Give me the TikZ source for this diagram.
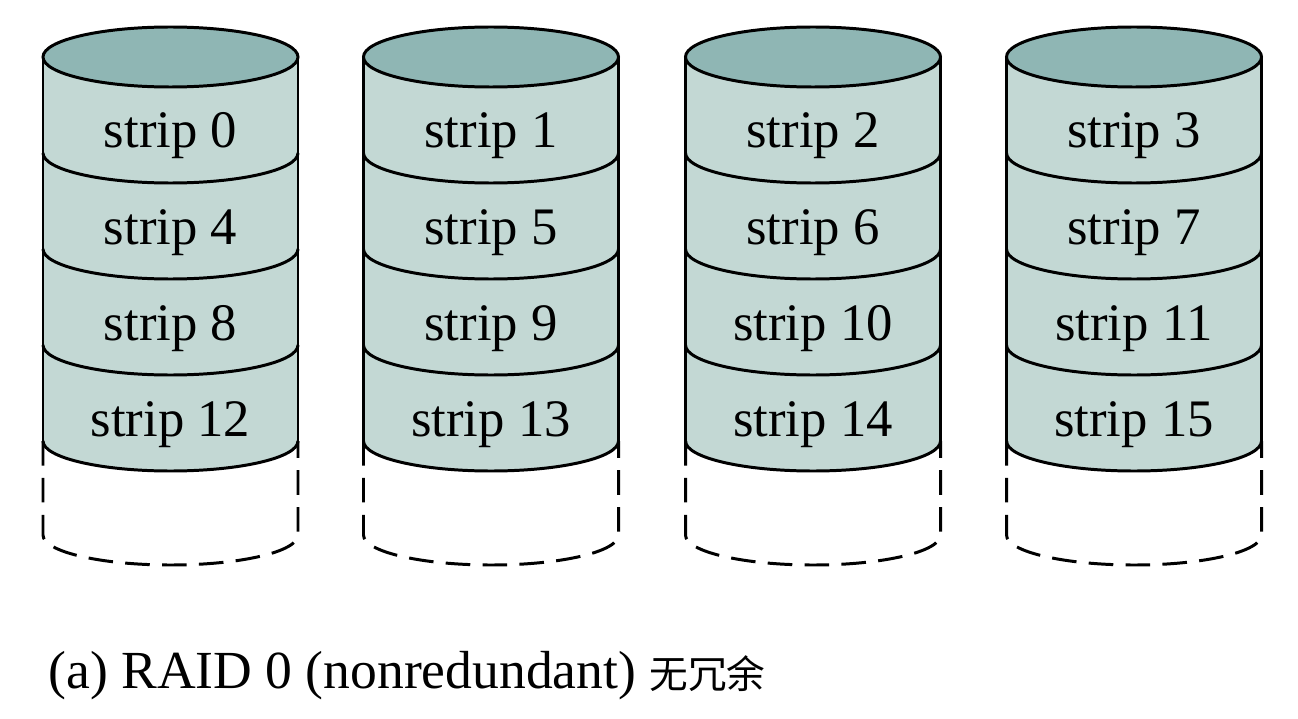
\documentclass[tikz,border=0pt]{standalone}
\usepackage{fontspec}
\setmainfont{Liberation Serif}
\newfontfamily\cjk{Noto Sans CJK SC}
\definecolor{disktop}{RGB}{143,182,180}
\definecolor{diskside}{RGB}{195,216,212}

\begin{document}
\begin{tikzpicture}[x=0.02cm,y=0.02cm,line width=1.7pt,
  striplabel/.style={anchor=base,font=\fontsize{30}{30}\selectfont},
  spare/.style={dash pattern=on 14pt off 7pt}]
\useasboundingbox (0,0) rectangle (1298,718);

\foreach \d/\cx in {0/170.5,1/491,2/813,3/1134}{
  % disk body
  \fill[diskside] (\cx-127.5,661) -- (\cx-127.5,277)
    arc[start angle=180,end angle=360,x radius=127.5,y radius=30] -- (\cx+127.5,661) -- cycle;
  \draw (\cx-127.5,661) -- (\cx-127.5,277) (\cx+127.5,661) -- (\cx+127.5,277);
  \draw[fill=disktop] (\cx,661) ellipse[x radius=127.5,y radius=30];
  \foreach \r/\cy in {0/565,1/469,2/373,3/277}{
    \draw (\cx-127.5,\cy) arc[start angle=180,end angle=360,x radius=127.5,y radius=30];
    \pgfmathtruncatemacro\s{\d+4*\r}
    \node[striplabel] (s\s) at (\cx,570-96*\r) {strip \s};
  }
  % empty space
  \draw[spare] (\cx-127.5,277) -- (\cx-127.5,183)
    arc[start angle=180,end angle=360,x radius=127.5,y radius=30] -- (\cx+127.5,277);
}

\node[anchor=base west,inner sep=0pt,font=\fontsize{30.5}{30.5}\selectfont] (caption) at (47,30)
  {(a) RAID 0 (nonredundant) {\cjk\fontsize{22}{22}\selectfont 无冗余}};
\end{tikzpicture}
\end{document}
